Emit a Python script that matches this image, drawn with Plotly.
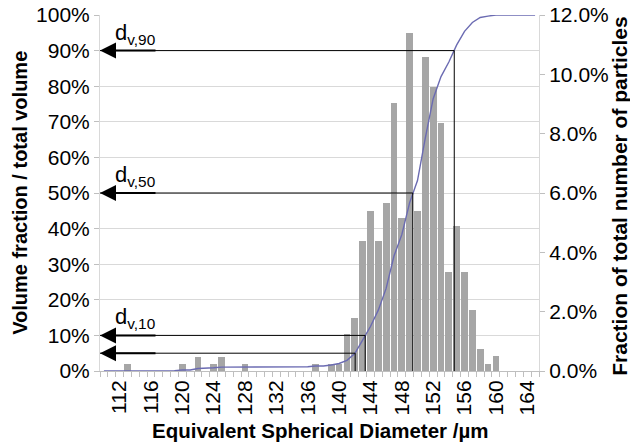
import plotly.graph_objects as go

# ---------------- data ----------------
diameters_um = list(range(110, 166))  # category axis 110 ... 165 µm

number_fraction_pct = [
    0, 0, 0, 0.24, 0, 0, 0, 0, 0, 0,          # 110-119
    0.24, 0, 0.48, 0, 0.24, 0.48, 0, 0, 0.24, 0,  # 120-129
    0, 0, 0, 0, 0, 0, 0, 0.24, 0, 0.24,       # 130-139
    0.24, 1.26, 1.79, 4.37, 5.41, 4.37, 5.66, 9.03, 5.16, 11.39,  # 140-149
    5.41, 10.58, 9.56, 8.36, 3.33, 4.90, 3.33, 2.04, 0.75, 0.24,  # 150-159
    0.49, 0, 0, 0, 0, 0,                      # 160-165
]

cumulative_volume_pct = [
    0, 0, 0, 0.1, 0.1, 0.1, 0.1, 0.1, 0.1, 0.1,         # 110-119
    0.3, 0.3, 0.7, 0.7, 0.9, 1.1, 1.1, 1.1, 1.2, 1.2,   # 120-129
    1.2, 1.2, 1.2, 1.2, 1.2, 1.2, 1.2, 1.4, 1.4, 1.7,   # 130-139
    2.1, 3.0, 4.9, 8.7, 12.5, 17.1, 23.2, 32.3, 38.3, 47.3,  # 140-149
    53.5, 65.5, 76.5, 82.7, 86.8, 91.6, 95.4, 97.9, 99.3, 99.7,  # 150-159
    100, 100, 100, 100, 100, 100,                       # 160-165
]

d_levels_pct = [90, 50, 10, 5]
d_values_um = [154.69, 149.40, 143.33, 142.05]
d_labels = ["d<sub>v,90</sub>", "d<sub>v,50</sub>", "d<sub>v,10</sub>", ""]

x_tick_values = list(range(112, 165, 4))
x_tick_labels = [str(v) for v in x_tick_values]
left_tick_values = [i / 10 for i in range(0, 11)]
right_tick_values = [i / 100 for i in range(0, 13, 2)]

FONT = "Liberation Sans, Arial, sans-serif"
AXIS_GREY = "#bfbfbf"
GRID_GREY = "#d9d9d9"

fig = go.Figure()

# number distribution (right axis) - main y
fig.add_trace(go.Bar(
    x=diameters_um,
    y=[v / 100 for v in number_fraction_pct],
    marker=dict(color="#a6a6a6", line=dict(width=0)),
    width=0.86,
    yaxis="y",
    showlegend=False,
))

# cumulative volume (left axis) - overlay y2
fig.add_trace(go.Scatter(
    x=diameters_um,
    y=[v / 100 for v in cumulative_volume_pct],
    mode="lines",
    line=dict(color="#6b6bb2", width=1.4),
    yaxis="y2",
    showlegend=False,
))

x_left = diameters_um[0] - 0.5
x_right = diameters_um[-1] + 0.5

shapes = []
annotations = []
for lvl, d, lab in zip(d_levels_pct, d_values_um, d_labels):
    y = lvl / 100
    shapes.append(dict(type="line", xref="x", yref="y2", x0=x_left, x1=d, y0=y, y1=y,
                       line=dict(color="black", width=1)))
    shapes.append(dict(type="line", xref="x", yref="y2", x0=d, x1=d, y0=0, y1=y,
                       line=dict(color="black", width=1)))
    annotations.append(dict(xref="paper", yref="y2", x=0, y=y, ax=57, ay=0,
                            axref="pixel", ayref="pixel", text="", showarrow=True,
                            arrowhead=2, arrowsize=1.6, arrowwidth=2, arrowcolor="black",
                            standoff=0, startstandoff=0))
    if lab:
        annotations.append(dict(xref="paper", yref="y2", x=0.03, y=y, text=lab,
                                showarrow=False, xanchor="left", yanchor="bottom",
                                yshift=1, font=dict(family=FONT, size=22, color="black")))

# axis titles as annotations for exact placement
annotations.append(dict(xref="paper", yref="paper", x=-0.182, y=0.5007,
                        text="<b>Volume fraction / total volume</b>", textangle=-90,
                        showarrow=False, xanchor="center", yanchor="middle",
                        font=dict(family=FONT, size=20, color="black")))
annotations.append(dict(xref="paper", yref="paper", x=1.1835, y=0.491,
                        text="<b>Fraction of total number of particles</b>", textangle=-90,
                        showarrow=False, xanchor="center", yanchor="middle",
                        font=dict(family=FONT, size=21, color="black")))
annotations.append(dict(xref="paper", yref="paper", x=0.503, y=-0.167,
                        text="<b>Equivalent Spherical Diameter /µm</b>",
                        showarrow=False, xanchor="center", yanchor="middle",
                        font=dict(family=FONT, size=20.5, color="black")))

fig.update_layout(
    width=630, height=446,
    margin=dict(l=100, r=91, t=15, b=74.5, autoexpand=False),
    paper_bgcolor="white", plot_bgcolor="white",
    font=dict(family=FONT, size=21, color="black"),
    bargap=0,
    xaxis=dict(
        range=[x_left, x_right],
        tickmode="array", tickvals=x_tick_values, ticktext=x_tick_labels,
        tickangle=-90, tickfont=dict(size=21),
        showgrid=False, zeroline=False,
        showline=True, linecolor=AXIS_GREY, linewidth=1,
        ticks="",
        minor=dict(ticks="outside", tick0=x_left, dtick=1, ticklen=5,
                   tickcolor=AXIS_GREY, tickwidth=1, showgrid=False),
    ),
    yaxis=dict(
        side="right", range=[0, 0.12],
        tickmode="array", tickvals=right_tick_values, tickformat=".1%",
        tickfont=dict(size=21),
        showgrid=False, zeroline=False,
        showline=True, linecolor=GRID_GREY, linewidth=1,
        ticks="outside", ticklen=5, tickcolor=AXIS_GREY,
    ),
    yaxis2=dict(
        overlaying="y", side="left", range=[0, 1],
        tickmode="array", tickvals=left_tick_values, tickformat=".0%",
        tickfont=dict(size=21),
        showgrid=True, gridcolor=GRID_GREY, gridwidth=1, zeroline=False,
        showline=True, linecolor=GRID_GREY, linewidth=1,
        ticks="outside", ticklen=5, tickcolor=AXIS_GREY,
    ),
    shapes=shapes,
    annotations=annotations,
)

fig.write_html(
    "out.html",
    config={"displayModeBar": False},
    post_script="document.body.style.margin='0px';document.body.style.padding='0px';",
)
